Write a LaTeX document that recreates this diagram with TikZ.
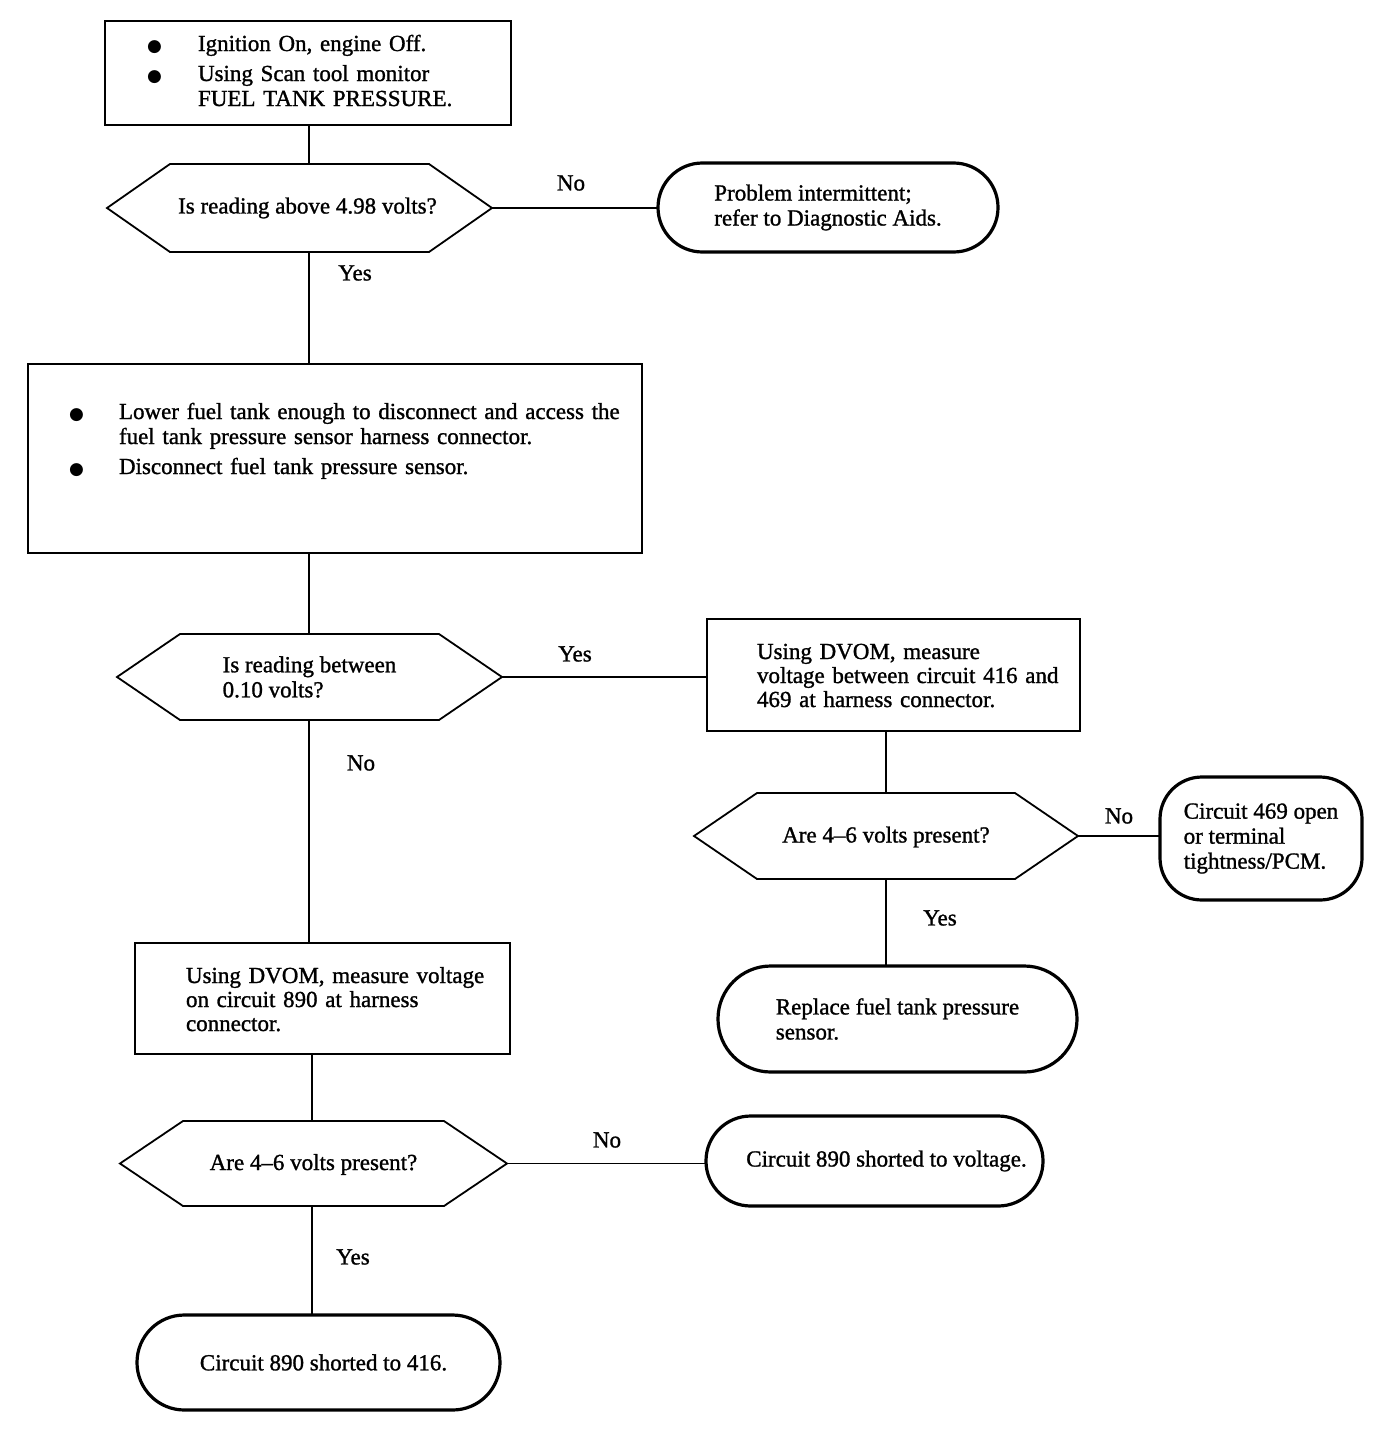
\documentclass[tikz,border=0pt]{standalone}
\usepackage{fontspec}
\setmainfont{Liberation Serif}[FakeBold=1.2]
\newfontfamily\symfont{DejaVu Sans}
\newcommand\bul{{\fontsize{8.5pt}{8.5pt}\symfont ●}}
\newcommand\bitem[2]{\hangindent=#1\hangafter=1\makebox[#1][l]{\bul}#2\par}
\newcommand\hexdraw[1]{\draw[hexline] (#1.west) -- ([xshift=31.5pt]#1.north west) -- ([xshift=-31.5pt]#1.north east) -- (#1.east) -- ([xshift=-31.5pt]#1.south east) -- ([xshift=31.5pt]#1.south west) -- cycle;}
\begin{document}
\begin{tikzpicture}[x=0.5pt,y=-0.5pt,
  every node/.style={inner sep=0pt, outer sep=0pt, font=\fontsize{11.5pt}{12.5pt}\selectfont},
  procbox/.style={draw, line width=1pt, rectangle},
  hexnode/.style={rectangle},
  hexline/.style={line width=0.9pt, line join=miter},
  term/.style={draw, line width=1.6pt, rectangle, align=left},
  conn/.style={line width=0.9pt},
  txt/.style={anchor=base west, align=left},
  lbl/.style={}]
\fill[white] (0,0) rectangle (1392,1440);
\useasboundingbox (0,0) rectangle (1392,1440);

% boxes
\node[procbox, minimum width=203pt, minimum height=52pt] (b1) at (308,73) {};
\node[txt, text width=180pt] (b1t) at (147,51) {\bitem{25.5pt}{Ignition On, engine Off.}\vskip2.5pt\bitem{25.5pt}{Using Scan tool monitor\newline FUEL TANK PRESSURE.}};

\node[procbox, minimum width=307pt, minimum height=94.5pt] (b2) at (335,458.5) {};
\node[txt, text width=290pt] (b2t) at (69,419) {\bitem{25pt}{Lower fuel tank enough to disconnect and access the\newline fuel tank pressure sensor harness connector.}\vskip2.5pt\bitem{25pt}{Disconnect fuel tank pressure sensor.}};

\node[procbox, minimum width=186.5pt, minimum height=56pt] (b3) at (893.5,675) {};
\node[txt, text width=170pt, font=\fontsize{11.5pt}{12pt}\selectfont] (b3t) at (757,659) {Using DVOM, measure\\voltage between circuit 416 and\\469 at harness connector.};

\node[procbox, minimum width=187.5pt, minimum height=55.5pt] (b4) at (322.5,998.5) {};
\node[txt, text width=170pt, font=\fontsize{11.5pt}{12pt}\selectfont] (b4t) at (186,983) {Using DVOM, measure voltage\\on circuit 890 at harness\\connector.};

% decisions
\node[hexnode, minimum width=192.5pt, minimum height=44pt] (h1) at (299.5,208) {\hspace*{8pt}Is reading above 4.98 volts?};
\hexdraw{h1}
\node[hexnode, minimum width=192.5pt, minimum height=43pt, align=left] (h2) at (309.5,677) {Is reading between\\0.10 volts?};
\hexdraw{h2}
\node[hexnode, minimum width=192pt, minimum height=43pt, text height=9pt, text depth=2.5pt] (h3) at (886,836) {Are 4--6 volts present?};
\hexdraw{h3}
\node[hexnode, minimum width=193.5pt, minimum height=42.5pt, text height=9pt, text depth=2.5pt] (h4) at (313.5,1163.5) {Are 4--6 volts present?};
\hexdraw{h4}

% terminals
\node[term, minimum width=170pt, minimum height=44.5pt, rounded corners=22.2pt] (t1) at (828,207.5) {Problem intermittent;\\refer to Diagnostic Aids.};
\node[term, minimum width=101pt, minimum height=61.5pt, rounded corners=21pt] (t469) at (1261,838.5) {Circuit 469 open\\or terminal\\tightness/PCM.};
\node[term, minimum width=179.5pt, minimum height=53pt, rounded corners=26.4pt] (trep) at (897.5,1019) {Replace fuel tank pressure\\sensor.};
\node[term, minimum width=168.5pt, minimum height=45pt, rounded corners=22.4pt] (t890) at (874.5,1161) {\hspace*{12pt}Circuit 890 shorted to voltage.};
\node[term, minimum width=181.5pt, minimum height=47.5pt, rounded corners=23.7pt] (t416) at (318.5,1362.5) {\hspace*{5pt}Circuit 890 shorted to 416.};

% connectors
\coordinate (c1) at (309,0);
\coordinate (c2) at (312,0);
\coordinate (c3) at (886,0);
\draw[conn] (b1.south -| c1) -- (h1.north -| c1);
\draw[conn] (h1.south -| c1) -- (b2.north -| c1);
\draw[conn] (b2.south -| c1) -- (h2.north -| c1);
\draw[conn] (h2.south -| c1) -- (b4.north -| c1);
\draw[conn] (b4.south -| c2) -- (h4.north -| c2);
\draw[conn] (h4.south -| c2) -- (t416.north -| c2);
\draw[conn] (h1.east) -- (h1.east -| t1.west);
\draw[conn] (h2.east) -- (h2.east -| b3.west);
\draw[conn] (b3.south -| c3) -- (h3.north -| c3);
\draw[conn] (h3.south -| c3) -- (trep.north -| c3);
\draw[conn] (h3.east) -- (h3.east -| t469.west);
\draw[conn] (h4.east) -- (h4.east -| t890.west);

% labels
\node[lbl] (l1) at (571,183) {No};
\node[lbl] (l2) at (355,273) {Yes};
\node[lbl] (l3) at (575,654) {Yes};
\node[lbl] (l4) at (361,763) {No};
\node[lbl] (l5) at (1119,816) {No};
\node[lbl] (l6) at (940,918) {Yes};
\node[lbl] (l7) at (607,1140) {No};
\node[lbl] (l8) at (353,1257) {Yes};
\end{tikzpicture}
\end{document}
